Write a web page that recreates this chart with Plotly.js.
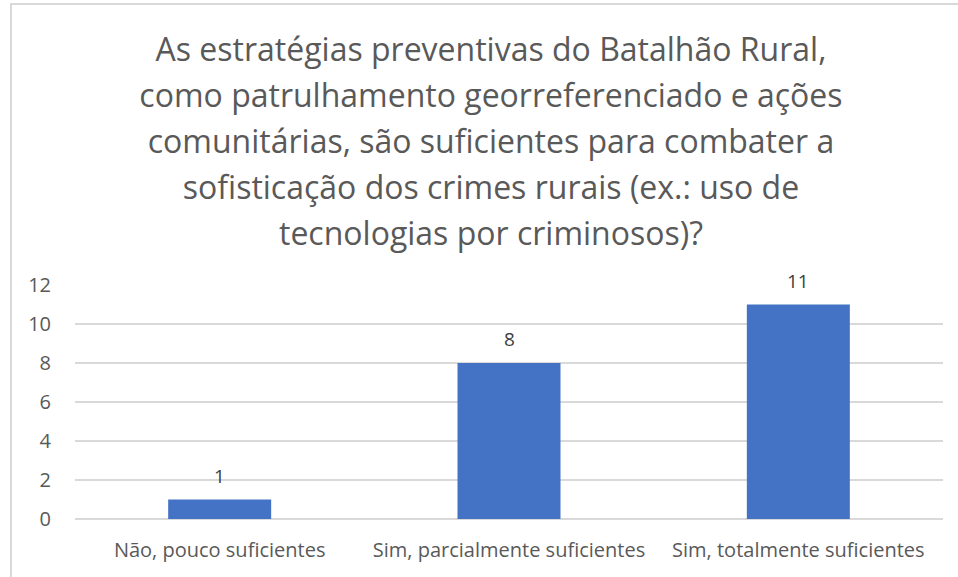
<!DOCTYPE html>
<html>
<head>
<meta charset="utf-8">
<script src="https://cdn.plot.ly/plotly-3.0.1.min.js"></script>
<style>
  html, body { margin: 0; padding: 0; background: #fff; }
  #wrap { position: relative; width: 958px; height: 577px; }
  #chart { width: 958px; height: 577px; }
  #frame { position: absolute; left: 10px; top: 3px; width: 960px; height: 600px;
           border-left: 2px solid #d9d9d9; border-top: 2px solid #d9d9d9; pointer-events: none; }
</style>
</head>
<body>
<div id="wrap">
  <div id="chart"></div>
  <div id="frame"></div>
</div>
<script>
const titleLines = [
  "As estratégias preventivas do Batalhão Rural,",
  "como patrulhamento georreferenciado e ações",
  "comunitárias, são suficientes para combater a",
  "sofisticação dos crimes rurais (ex.: uso de",
  "tecnologias por criminosos)?"
];
const categories = ["Não, pouco suficientes", "Sim, parcialmente suficientes", "Sim, totalmente suficientes"];
const values = [1, 8, 11];
const yTicks = [0, 2, 4, 6, 8, 10, 12];

const barColor = "#4472C4";
const textGray = "#595959";
const gridGray = "#d9d9d9";

const trace = {
  type: "bar",
  x: categories,
  y: values,
  marker: { color: barColor },
  hoverinfo: "skip"
};

const labelAnnotations = categories.map((c, i) => ({
  x: c, y: values[i], xref: "x", yref: "y",
  text: String(values[i]),
  showarrow: false, yanchor: "bottom", yshift: 9,
  font: { family: "Open Sans, Noto Sans, sans-serif", size: 19, color: "#404040" }
}));

const layout = {
  width: 958, height: 577,
  paper_bgcolor: "#ffffff", plot_bgcolor: "#ffffff",
  margin: { l: 75, r: 15, t: 285, b: 58 },
  showlegend: false,
  bargap: 0.644,
  title: {
    text: titleLines.map(s => '<span style="font-size:32px">' + s + '</span>').join("<br>"),
    font: { family: "Open Sans, Noto Sans, sans-serif", size: 35.4, color: textGray },
    x: 0.5125, xref: "container", xanchor: "center",
    y: 1 - 61 / 577, yref: "container", yanchor: "top"
  },
  xaxis: {
    type: "category",
    tickfont: { family: "Open Sans, Noto Sans, sans-serif", size: 20, color: textGray },
    showgrid: false, showline: false, zeroline: false, ticks: "",
    ticklabelstandoff: 17,
    fixedrange: true
  },
  yaxis: {
    range: [0, 12],
    tickvals: yTicks,
    ticktext: yTicks.map(String),
    tickfont: { family: "Open Sans, Noto Sans, sans-serif", size: 20, color: textGray },
    showgrid: true, gridcolor: gridGray, gridwidth: 1.5,
    zeroline: true, zerolinecolor: gridGray, zerolinewidth: 1.5,
    showline: false, ticks: "", ticklabelstandoff: 23,
    fixedrange: true
  },
  annotations: labelAnnotations
};

Plotly.newPlot("chart", [trace], layout, { displayModeBar: false, staticPlot: true });
</script>
</body>
</html>
